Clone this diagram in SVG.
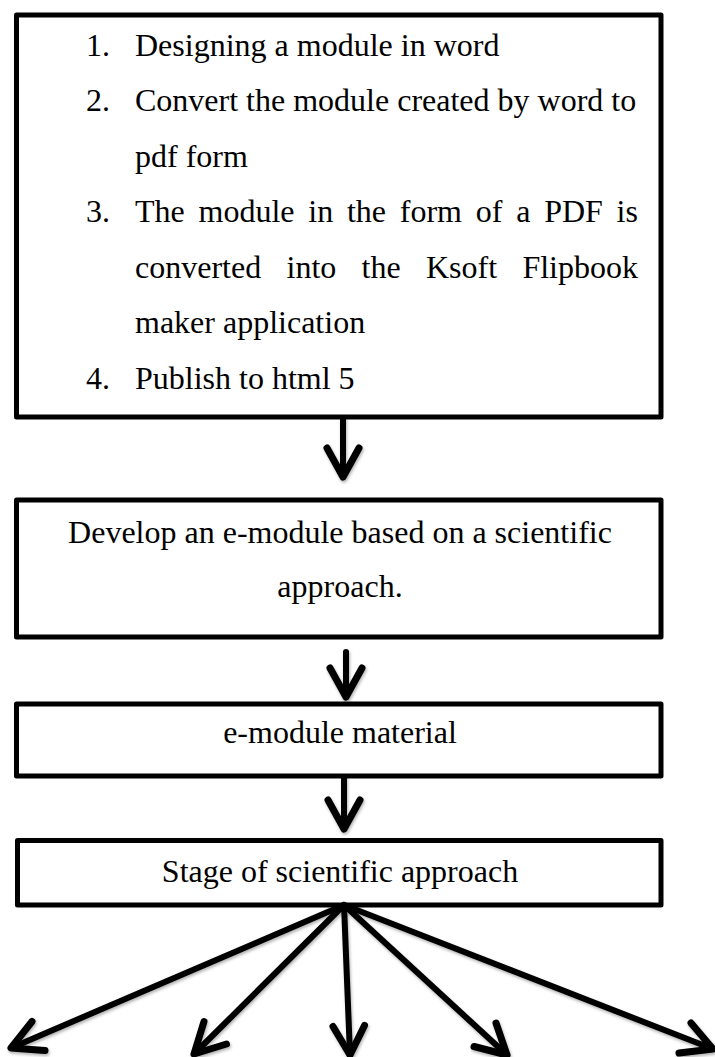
<svg xmlns="http://www.w3.org/2000/svg" width="715" height="1057" viewBox="0 0 715 1057">
<style>
.box{fill:#fff;stroke:#000;stroke-width:5;stroke-linejoin:round}
.t{font-family:"Liberation Serif","Times New Roman",serif;font-size:32px;fill:#000}
.c{text-anchor:middle}
.con path{fill:none;stroke:#000;stroke-width:6;stroke-linecap:round;stroke-linejoin:round}
.con path.h{stroke-width:7}
</style>
<defs>
<filter id="sh" x="-20%" y="-20%" width="140%" height="140%">
<feDropShadow dx="1" dy="2" stdDeviation="1.5" flood-color="#000" flood-opacity="0.3"/>
</filter>
</defs>
<rect width="715" height="1057" fill="#fff"/>
<g id="n1">
<rect class="box" x="16.5" y="15" width="644.5" height="402"/>
<text class="t" x="86" y="55.5">1.</text>
<text class="t" x="135" y="55.5">Designing a module in word</text>
<text class="t" x="86" y="111">2.</text>
<text class="t" x="135" y="111">Convert the module created by word to</text>
<text class="t" x="135" y="166.5">pdf form</text>
<text class="t" x="86" y="222">3.</text>
<text class="t" y="222"><tspan x="135">The</tspan> <tspan x="198.5">module</tspan> <tspan x="308.3">in</tspan> <tspan x="346.9">the</tspan> <tspan x="399.8">form</tspan> <tspan x="475.8">of</tspan> <tspan x="516.2">a</tspan> <tspan x="544.2">PDF</tspan> <tspan x="616.6">is</tspan></text>
<text class="t" y="277.5"><tspan x="135">converted</tspan> <tspan x="286.5">into</tspan> <tspan x="361.6">the</tspan> <tspan x="426">Ksoft</tspan> <tspan x="522.4">Flipbook</tspan></text>
<text class="t" x="135" y="333">maker application</text>
<text class="t" x="86" y="388.5">4.</text>
<text class="t" x="135" y="388.5">Publish to html 5</text>
</g>
<g id="n2">
<rect class="box" x="16.5" y="500" width="644.5" height="137"/>
<text class="t c" x="340" y="543">Develop an e-module based on a scientific</text>
<text class="t c" x="340" y="597">approach.</text>
</g>
<g id="n3">
<rect class="box" x="16.5" y="704" width="644.5" height="72"/>
<text class="t c" x="340" y="743">e-module material</text>
</g>
<g id="n4">
<rect class="box" x="17.5" y="840.5" width="643.5" height="64.5"/>
<text class="t c" x="340" y="882">Stage of scientific approach</text>
</g>
<g id="connectors" class="con" filter="url(#sh)">
<path d="M343,419 V477"/><path class="h" d="M327,448 L343,477 L359,448"/>
<path d="M346,652 V697"/><path class="h" d="M330,668 L346,697 L362,668"/>
<path d="M344,778 V829"/><path class="h" d="M328,800 L344,829 L360,800"/>
<path d="M344,905 L11,1048"/><path class="h" d="M32,1021.5 L11,1048 L45,1050.5"/>
<path d="M344,905 L194,1054"/><path class="h" d="M204,1021.5 L194,1054 L226.5,1044"/>
<path d="M344,905 L350,1055"/><path class="h" d="M333,1026.5 L350,1055 L364.5,1025.5"/>
<path d="M344,905 L507,1055"/><path class="h" d="M496,1023 L507,1055 L474,1046.5"/>
<path d="M344,905 L713,1049"/><path class="h" d="M691,1023 L713,1049 L679,1053"/>
</g>
</svg>
